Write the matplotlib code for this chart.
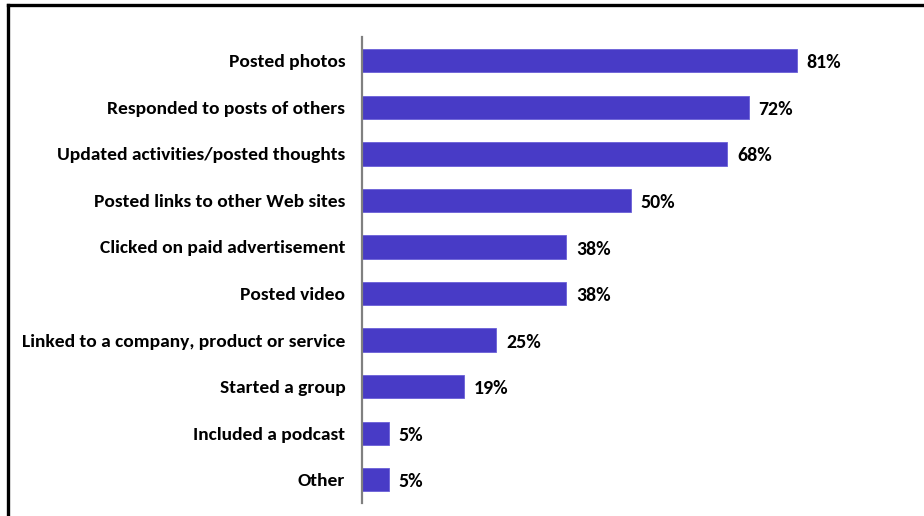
import matplotlib.pyplot as plt
from matplotlib.lines import Line2D

activities = [
    "Posted photos",
    "Responded to posts of others",
    "Updated activities/posted thoughts",
    "Posted links to other Web sites",
    "Clicked on paid advertisement",
    "Posted video",
    "Linked to a company, product or service",
    "Started a group",
    "Included a podcast",
    "Other",
]
shares = [81, 72, 68, 50, 38, 38, 25, 19, 5, 5]

bar_color = "#483BC6"
plt.rcParams["font.family"] = ["Carlito", "DejaVu Sans"]

fig = plt.figure(figsize=(9.24, 5.16), dpi=100)
ax = fig.add_axes([362 / 924, 1 - 503 / 516, 537 / 924, 465.5 / 516])

pos = list(range(len(activities)))
ax.barh(pos, shares, height=0.5, color=bar_color, edgecolor="#6A60D8", linewidth=0.6)
ax.set_xlim(0, 100)
ax.set_ylim(len(activities) - 0.5, -0.5)

ax.set_yticks(pos)
ax.set_yticklabels(activities, fontsize=14, fontweight="bold")
ax.tick_params(axis="y", length=0, pad=12)
ax.set_xticks([])

for s in ["top", "right", "bottom"]:
    ax.spines[s].set_visible(False)
ax.spines["left"].set_color("#808080")
ax.spines["left"].set_linewidth(1.6)

for y, v in zip(pos, shares):
    ax.annotate(f"{v}%", (v, y), xytext=(7, -1.5), textcoords="offset points",
                va="center", ha="left", fontsize=14.3, fontweight="bold")

# outer frame: top and left edges only
fig.add_artist(Line2D([8 / 924, 1], [1 - 5 / 516, 1 - 5 / 516], color="black",
                      linewidth=2.4, transform=fig.transFigure))
fig.add_artist(Line2D([8 / 924, 8 / 924], [0, 1 - 5 / 516], color="black",
                      linewidth=2.4, transform=fig.transFigure))

fig.savefig("out.png", dpi=100)
